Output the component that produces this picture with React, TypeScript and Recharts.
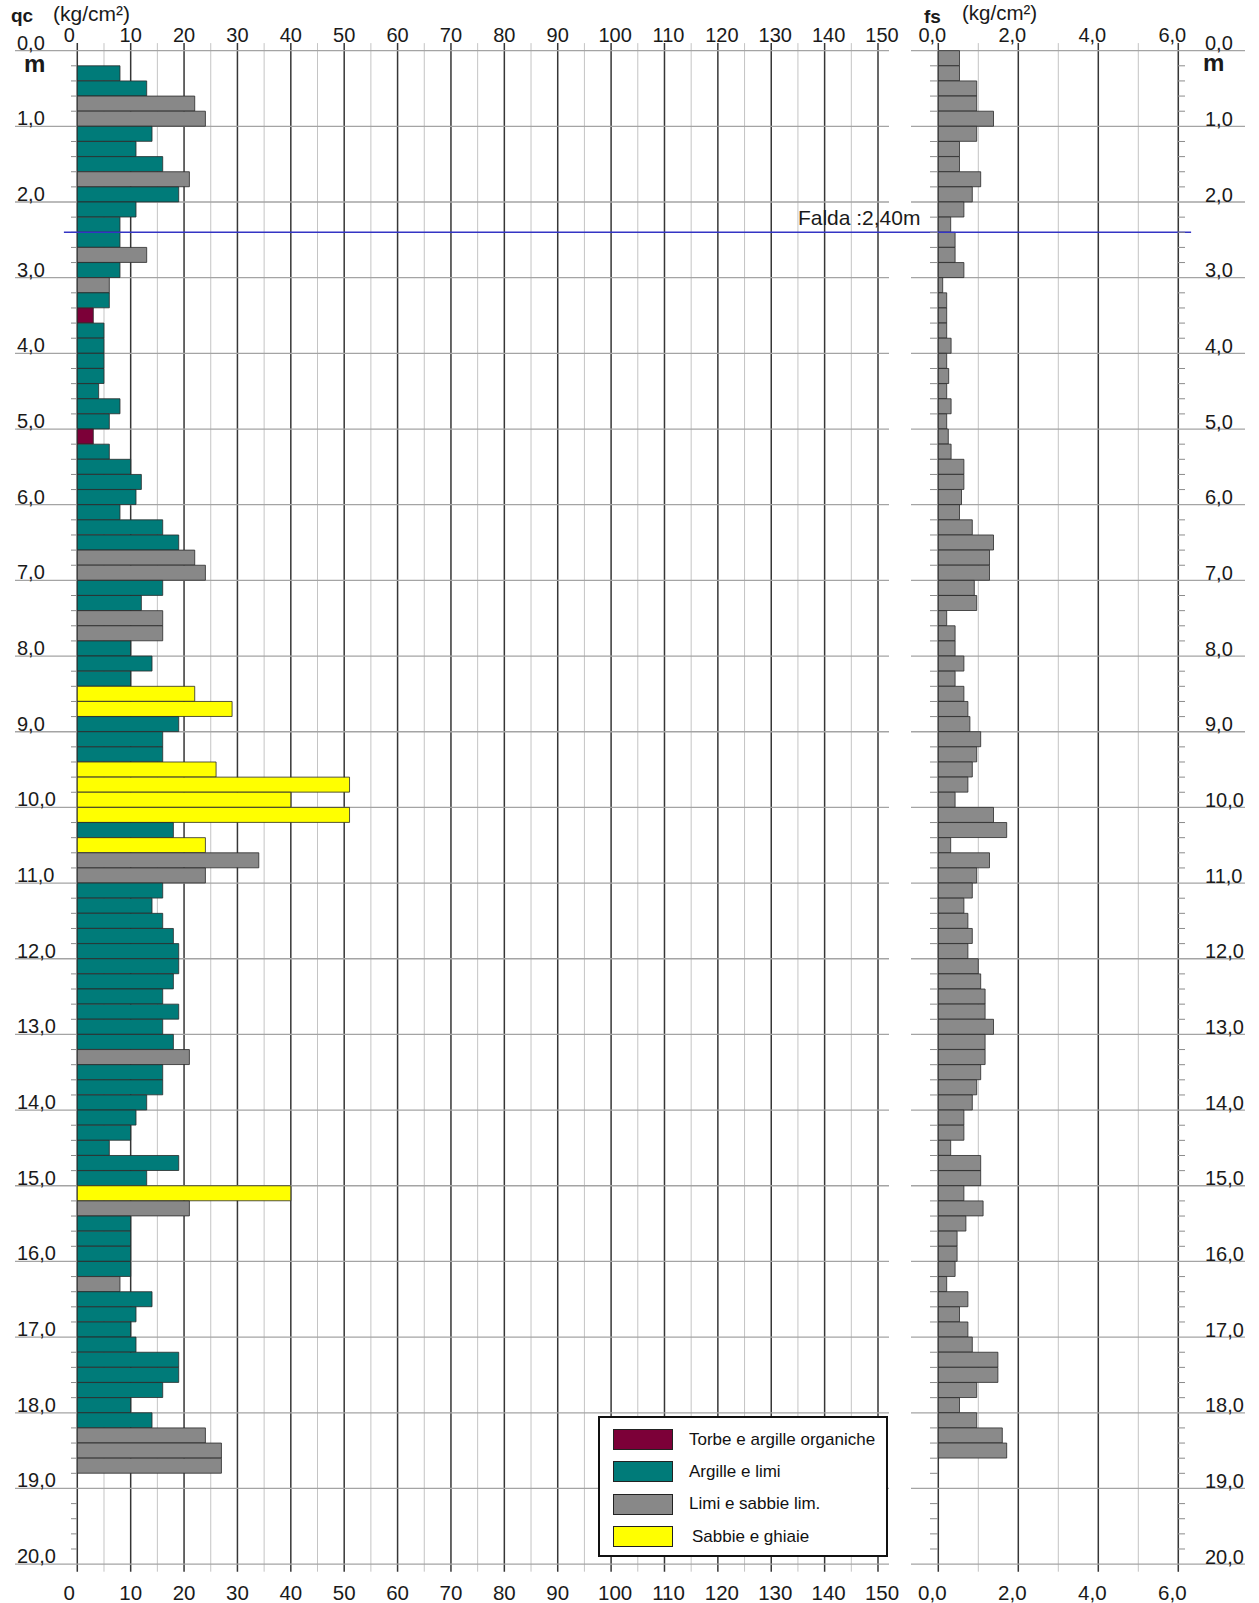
import React from "react";
import {
  BarChart,
  Bar,
  Cell,
  XAxis,
  YAxis,
  CartesianGrid,
  ReferenceLine,
  Legend,
} from "recharts";

const W = 1259;
const H = 1603;
const FONT = '"Liberation Sans", Arial, Helvetica, sans-serif';

// depth step of the readings (m)
const STEP = 0.2;

// qc (kg/cm²), first reading at 0.20 m
const QC_START = 0.2;
const QC_VALUES = [
  8, 13, 22, 24, 14, 11, 16, 21, 19, 11,
  8, 8, 13, 8, 6, 6, 3, 5, 5, 5,
  5, 4, 8, 6, 3, 6, 10, 12, 11, 8,
  16, 19, 22, 24, 16, 12, 16, 16, 10, 14,
  10, 22, 29, 19, 16, 16, 26, 51, 40, 51,
  18, 24, 34, 24, 16, 14, 16, 18, 19, 19,
  18, 16, 19, 16, 18, 21, 16, 16, 13, 11,
  10, 6, 19, 13, 40, 21, 10, 10, 10, 10,
  8, 14, 11, 10, 11, 19, 19, 16, 10, 14,
  24, 27, 27,
];
// T torbe, A argille, L limi, S sabbie
const QC_SOIL = [
  "A", "A", "L", "L", "A", "A", "A", "L", "A", "A",
  "A", "A", "L", "A", "L", "A", "T", "A", "A", "A",
  "A", "A", "A", "A", "T", "A", "A", "A", "A", "A",
  "A", "A", "L", "L", "A", "A", "L", "L", "A", "A",
  "A", "S", "S", "A", "A", "A", "S", "S", "S", "S",
  "A", "S", "L", "L", "A", "A", "A", "A", "A", "A",
  "A", "A", "A", "A", "A", "L", "A", "A", "A", "A",
  "A", "A", "A", "A", "S", "L", "A", "A", "A", "A",
  "L", "A", "A", "A", "A", "A", "A", "A", "A", "A",
  "L", "L", "L",
];

// fs (kg/cm²), first reading at 0.00 m
const FS_START = 0.0;
const FS_VALUES = [
  0.53, 0.53, 0.96, 0.96, 1.38, 0.96, 0.53, 0.53, 1.06, 0.85,
  0.64, 0.31, 0.42, 0.42, 0.64, 0.11, 0.21, 0.21, 0.21, 0.32,
  0.21, 0.26, 0.21, 0.32, 0.21, 0.25, 0.32, 0.64, 0.64, 0.58,
  0.53, 0.85, 1.38, 1.28, 1.28, 0.9, 0.96, 0.21, 0.42, 0.42,
  0.64, 0.42, 0.64, 0.74, 0.79, 1.06, 0.96, 0.85, 0.74, 0.42,
  1.38, 1.71, 0.31, 1.28, 0.96, 0.85, 0.64, 0.74, 0.85, 0.74,
  1.0, 1.06, 1.17, 1.17, 1.38, 1.17, 1.17, 1.06, 0.96, 0.85,
  0.64, 0.64, 0.31, 1.06, 1.06, 0.64, 1.12, 0.69, 0.47, 0.47,
  0.42, 0.21, 0.74, 0.53, 0.74, 0.85, 1.49, 1.49, 0.96, 0.53,
  0.96, 1.6, 1.71,
];

const SOIL_KEYS = ["T", "A", "L", "S"];
const SOIL_NAMES = [
  "Torbe e argille organiche",
  "Argille e limi",
  "Limi e sabbie lim.",
  "Sabbie e ghiaie",
];
const SOIL_COLORS = ["#7c0038", "#007b79", "#888888", "#ffff00"];

const QC_TICKS = [0, 10, 20, 30, 40, 50, 60, 70, 80, 90, 100, 110, 120, 130, 140, 150];
const QC_MINOR = [5, 15, 25, 35, 45, 55, 65, 75, 85, 95, 105, 115, 125, 135, 145];
const FS_TICKS = [0, 2, 4, 6];
const FS_MINOR = [1, 3, 5, 6];
const DEPTH_MAJOR = [0, 1, 2, 3, 4, 5, 6, 7, 8, 9, 10, 11, 12, 13, 14, 15, 16, 17, 18, 19, 20];
const DEPTH_TICKS = Array.from({ length: 101 }, (_, i) => i / 5);
const FALDA = 2.4;

// axis windows (values at the plot edges)
const QC_DOMAIN: [number, number] = [-11.67, 152.06];
const FS_DOMAIN: [number, number] = [-0.6825, 7.6675];
const DEPTH_DOMAIN: [number, number] = [-0.1, 20.1];

const qcRows = QC_VALUES.map((qc, i) => ({
  mid: QC_START + i * STEP + STEP / 2,
  qc,
  soil: QC_SOIL[i],
}));
const fsRows = FS_VALUES.map((fs, i) => ({
  mid: FS_START + i * STEP + STEP / 2,
  fs,
}));

const isMajor = (v: number) => Math.abs(v - Math.round(v)) < 1e-6;
const txt = { fontFamily: FONT, fill: "#1a1a1a" };

const QcTick = (props: any) => {
  const { x, y, payload, bottom } = props;
  const v = payload.value;
  const dx = v === 0 ? -8 : v >= 100 ? 4 : 0;
  return (
    <text x={x + dx} y={bottom ? y + 28.3 : y - 1} textAnchor="middle" fontSize={bottom ? 20.5 : 20} {...txt}>
      {v}
    </text>
  );
};

const FsTick = (props: any) => {
  const { x, y, payload, bottom } = props;
  return (
    <text x={x - 6} y={bottom ? y + 28.3 : y - 1} textAnchor="middle" fontSize={bottom ? 20.5 : 20} {...txt}>
      {payload.value.toFixed(1).replace(".", ",")}
    </text>
  );
};

const QcDepthTick = (props: any) => {
  const { x, y, payload } = props;
  const v = payload.value;
  if (isMajor(v)) {
    return (
      <text x={x + 2} y={y - 1} fontSize={20} {...txt}>
        {`${Math.round(v)},0`}
      </text>
    );
  }
  return <line x1={x + 56} x2={x + 62} y1={y} y2={y} stroke="#8c8c8c" strokeWidth={1} />;
};

const FsDepthTick = (props: any) => {
  const { x, y, payload } = props;
  const v = payload.value;
  if (isMajor(v)) {
    return (
      <text x={x - 40} y={y - 0.5} fontSize={20} {...txt}>
        {`${Math.round(v)},0`}
      </text>
    );
  }
  return (
    <g>
      <line x1={x - 315} x2={x - 307} y1={y} y2={y} stroke="#8c8c8c" strokeWidth={1} />
      <line x1={x - 67.3} x2={x - 60} y1={y} y2={y} stroke="#8c8c8c" strokeWidth={1} />
    </g>
  );
};

const SoilLegend = () => (
  <div
    style={{
      boxSizing: "border-box",
      width: 290,
      height: 141,
      border: "2px solid #111",
      background: "#fff",
      position: "relative",
      fontFamily: FONT,
    }}
  >
    {SOIL_NAMES.map((name, i) => (
      <div
        key={name}
        style={{
          position: "absolute",
          left: 13,
          top: 11 + i * 32.4,
          height: 21,
          display: "flex",
          alignItems: "center",
        }}
      >
        <div
          style={{
            boxSizing: "border-box",
            width: 60,
            height: 21,
            background: SOIL_COLORS[i],
            border: "1.5px solid #222",
          }}
        />
        <span style={{ marginLeft: i === 3 ? 19 : 16, fontSize: 17, color: "#111", whiteSpace: "nowrap" }}>
          {name}
        </span>
      </div>
    ))}
  </div>
);

const FaldaLabel = (props: any) => {
  const { viewBox } = props;
  return (
    <text x={viewBox.x + 734} y={viewBox.y - 7} fontSize={21} {...txt}>
      Falda :2,40m
    </text>
  );
};

export default function App() {
  return (
    <div style={{ position: "relative", width: W, height: H, background: "#fff" }}>
      <style>{"body{margin:0}"}</style>

      <div style={{ position: "absolute", left: 0, top: 0 }}>
        <BarChart
          width={W}
          height={H}
          data={qcRows}
          layout="vertical"
          margin={{ top: 0, right: 370, bottom: 0, left: 0 }}
          barCategoryGap={0}
          barGap={0}
        >
          <CartesianGrid xAxisId="top" yAxisId="d" horizontal={false} syncWithTicks verticalValues={QC_MINOR} stroke="#c4c4c4" strokeWidth={1} />
          <CartesianGrid xAxisId="top" yAxisId="d" horizontal={false} syncWithTicks verticalValues={QC_TICKS} stroke="#363636" strokeWidth={1.5} />
          <CartesianGrid xAxisId="top" yAxisId="d" vertical={false} syncWithTicks horizontalValues={DEPTH_MAJOR} stroke="#a4a4a4" strokeWidth={1.3} />
          <XAxis
            xAxisId="top"
            orientation="top"
            type="number"
            domain={QC_DOMAIN}
            allowDataOverflow
            ticks={QC_TICKS}
            interval={0}
            height={43.1}
            tickSize={0}
            tickMargin={0}
            axisLine={false}
            tickLine={false}
            tick={(p: any) => <QcTick {...p} />}
          />
          <XAxis
            xAxisId="bottom"
            orientation="bottom"
            type="number"
            domain={QC_DOMAIN}
            allowDataOverflow
            ticks={QC_TICKS}
            interval={0}
            height={31.3}
            tickSize={0}
            tickMargin={0}
            axisLine={false}
            tickLine={false}
            tick={(p: any) => <QcTick {...p} bottom />}
          />
          <YAxis
            yAxisId="d"
            type="number"
            dataKey="mid"
            domain={DEPTH_DOMAIN}
            allowDataOverflow
            ticks={DEPTH_TICKS}
            interval={0}
            width={15}
            tickSize={0}
            tickMargin={0}
            axisLine={false}
            tickLine={false}
            tick={(p: any) => <QcDepthTick {...p} />}
          />
          <Bar xAxisId="top" yAxisId="d" dataKey="qc" isAnimationActive={false} stroke="#2a2a2a" strokeWidth={0.8}>
            {qcRows.map((r, i) => (
              <Cell key={i} fill={SOIL_COLORS[SOIL_KEYS.indexOf(r.soil)]} />
            ))}
          </Bar>
          <Legend
            layout="vertical"
            align="center"
            verticalAlign="middle"
            wrapperStyle={{ left: 598, top: 1416, width: 290, height: 141 }}
            content={() => <SoilLegend />}
          />
        </BarChart>
      </div>

      <div style={{ position: "absolute", left: 0, top: 0 }}>
        <BarChart
          width={W}
          height={H}
          data={fsRows}
          layout="vertical"
          margin={{ top: 0, right: 0, bottom: 0, left: 911 }}
          barCategoryGap={0}
          barGap={0}
        >
          <CartesianGrid xAxisId="top" yAxisId="d" horizontal={false} syncWithTicks verticalValues={FS_MINOR} stroke="#c4c4c4" strokeWidth={1} />
          <CartesianGrid xAxisId="top" yAxisId="d" horizontal={false} syncWithTicks verticalValues={FS_TICKS} stroke="#363636" strokeWidth={1.5} />
          <CartesianGrid xAxisId="top" yAxisId="d" vertical={false} syncWithTicks horizontalValues={DEPTH_MAJOR} stroke="#a4a4a4" strokeWidth={1.3} />
          <XAxis
            xAxisId="top"
            orientation="top"
            type="number"
            domain={FS_DOMAIN}
            allowDataOverflow
            ticks={FS_TICKS}
            interval={0}
            height={43.1}
            tickSize={0}
            tickMargin={0}
            axisLine={false}
            tickLine={false}
            tick={(p: any) => <FsTick {...p} />}
          />
          <XAxis
            xAxisId="bottom"
            orientation="bottom"
            type="number"
            domain={FS_DOMAIN}
            allowDataOverflow
            ticks={FS_TICKS}
            interval={0}
            height={31.3}
            tickSize={0}
            tickMargin={0}
            axisLine={false}
            tickLine={false}
            tick={(p: any) => <FsTick {...p} bottom />}
          />
          <YAxis
            yAxisId="d"
            orientation="right"
            type="number"
            dataKey="mid"
            domain={DEPTH_DOMAIN}
            allowDataOverflow
            ticks={DEPTH_TICKS}
            interval={0}
            width={14}
            tickSize={0}
            tickMargin={0}
            axisLine={false}
            tickLine={false}
            tick={(p: any) => <FsDepthTick {...p} />}
          />
          <Bar xAxisId="top" yAxisId="d" dataKey="fs" fill="#8a8a8a" isAnimationActive={false} stroke="#2a2a2a" strokeWidth={0.8} />
          <ReferenceLine
            xAxisId="top"
            yAxisId="d"
            segment={[
              { x: -21.86, y: FALDA },
              { x: 6.32, y: FALDA },
            ]}
            ifOverflow="visible"
            stroke="#3434c4"
            strokeWidth={1.6}
            label={(p: any) => <FaldaLabel {...p} />}
          />
        </BarChart>
      </div>

      <svg width={W} height={H} style={{ position: "absolute", left: 0, top: 0, pointerEvents: "none" }}>
        <text x={11} y={22} fontSize={19} fontWeight="bold" {...txt}>qc</text>
        <text x={53} y={21} fontSize={21} {...txt}>(kg/cm²)</text>
        <text x={24} y={72} fontSize={24} fontWeight="bold" {...txt}>m</text>
        <text x={924} y={22.5} fontSize={19} fontWeight="bold" {...txt}>fs</text>
        <text x={962} y={20} fontSize={20.5} {...txt}>(kg/cm²)</text>
        <text x={1203} y={71} fontSize={24} fontWeight="bold" {...txt}>m</text>
      </svg>
    </div>
  );
}
